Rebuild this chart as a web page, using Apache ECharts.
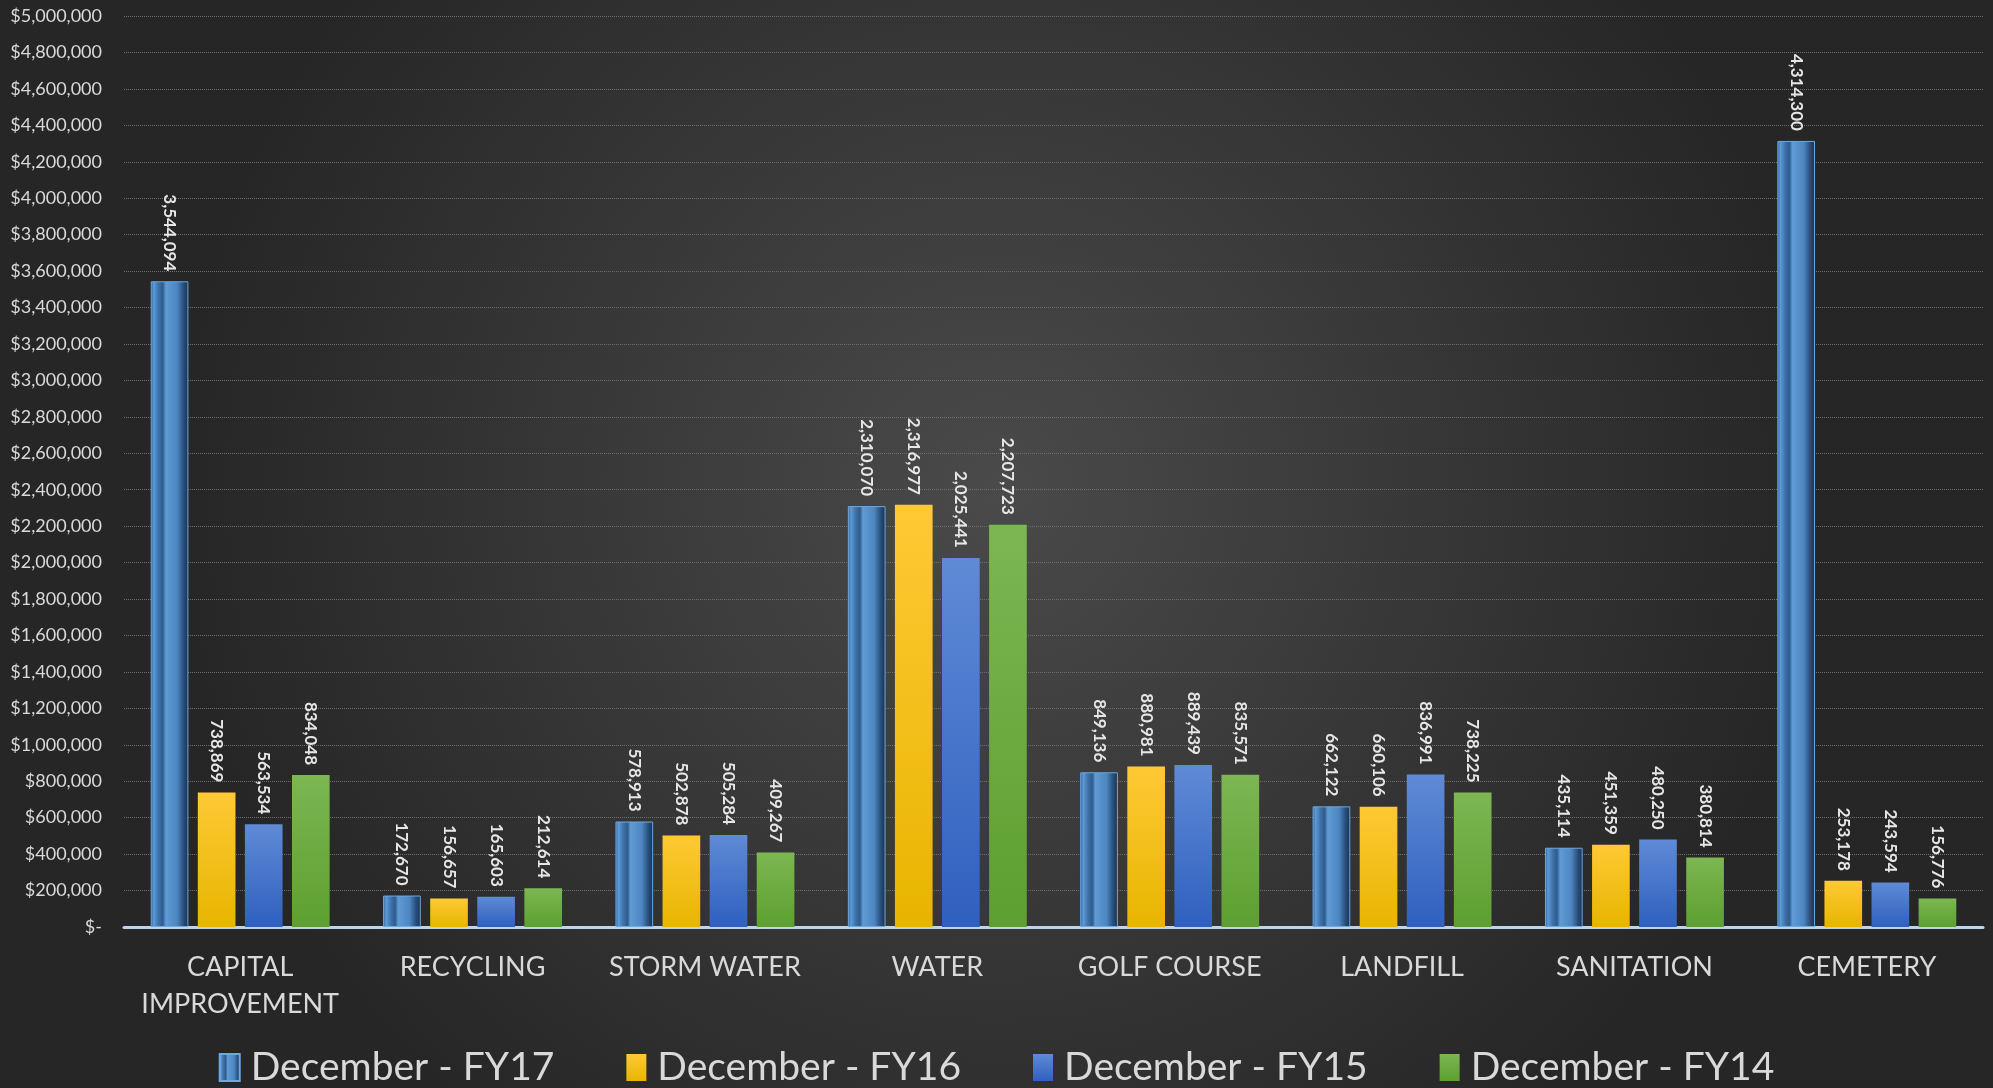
<!DOCTYPE html>
<html><head><meta charset="utf-8">
<script src="https://cdn.jsdelivr.net/npm/echarts@6/dist/echarts.min.js"></script>
<style>html,body{margin:0;padding:0;background:#333;}#c{width:1993px;height:1088px;}</style>
</head><body><div id="c"></div>
<script>
const categories = ['CAPITAL\nIMPROVEMENT','RECYCLING','STORM WATER','WATER','GOLF COURSE','LANDFILL','SANITATION','CEMETERY'];
const seriesNames = ['December - FY17','December - FY16','December - FY15','December - FY14'];
const fy17 = [3544094, 172670, 578913, 2310070, 849136, 662122, 435114, 4314300];
const fy16 = [738869, 156657, 502878, 2316977, 880981, 660106, 451359, 253178];
const fy15 = [563534, 165603, 505284, 2025441, 889439, 836991, 480250, 243594];
const fy14 = [834048, 212614, 409267, 2207723, 835571, 738225, 380814, 156776];
const yMax = 5000000, yStep = 200000;

const G = echarts.graphic;
const bevel = new G.LinearGradient(0,0,1,0,[
  {offset:0,color:'#2d5c8f'},{offset:0.08,color:'#5e9bd6'},{offset:0.2,color:'#3f74ad'},
  {offset:0.32,color:'#2f5b8c'},{offset:0.4,color:'#5f9bd4'},{offset:0.7,color:'#4d86c2'},
  {offset:0.86,color:'#2b527f'},{offset:1,color:'#17304d'}]);
const fills = [
  bevel,
  new G.LinearGradient(0,0,0,1,[{offset:0,color:'#ffc935'},{offset:1,color:'#e7b500'}]),
  new G.LinearGradient(0,0,0,1,[{offset:0,color:'#5f8ad6'},{offset:1,color:'#2f60bf'}]),
  new G.LinearGradient(0,0,0,1,[{offset:0,color:'#7cb752'},{offset:1,color:'#5d9f30'}])
];
const data = [fy17, fy16, fy15, fy14];
const fmt = v => v.toLocaleString('en-US');

const chart = echarts.init(document.getElementById('c'), null, {renderer:'canvas'});
chart.setOption({
  backgroundColor: new G.RadialGradient(0.5,0.45,0.75,[{offset:0,color:'#4a4a4a'},{offset:1,color:'#262626'}]),
  textStyle:{fontFamily:'Lato'},
  grid:{left:124,right:10,top:16,bottom:161,containLabel:false},
  legend:{
    top:1043,left:'center',itemWidth:20,itemHeight:27,itemGap:72,
    textStyle:{color:'#d9d9d9',fontSize:39,fontFamily:'Lato',padding:[0,0,0,6]},
    data:seriesNames.map((n,i)=>({name:n,icon:'rect',itemStyle:{color:fills[i]}}))
  },
  xAxis:{
    type:'category',data:categories,
    axisLine:{lineStyle:{color:'#bcd5ee',width:3}},
    axisTick:{show:false},
    axisLabel:{color:'#d9d9d9',fontSize:27,margin:22,lineHeight:37,interval:0}
  },
  yAxis:{
    type:'value',min:0,max:yMax,interval:yStep,
    axisLine:{show:false},axisTick:{show:false},
    splitLine:{lineStyle:{color:'#6e6e6e',type:'dotted',width:1}},
    axisLabel:{color:'#d9d9d9',fontSize:18,margin:22,
      formatter:v=> v===0 ? '$-' : '$'+fmt(v)}
  },
  series: data.map((d,i)=>({
    name:seriesNames[i],type:'bar',data:d,
    barGap:'25%',barCategoryGap:'23%',
    itemStyle: i===0 ? {color:fills[i],borderColor:'#6ea8e0',borderWidth:1} : {color:fills[i]},
    label:{show:true,position:'top',rotate:-90,align:'right',verticalAlign:'middle',distance:10,
      color:'#e6e6e6',fontSize:17,fontWeight:'bold',formatter:p=>fmt(p.value)}
  }))
});
</script></body></html>
